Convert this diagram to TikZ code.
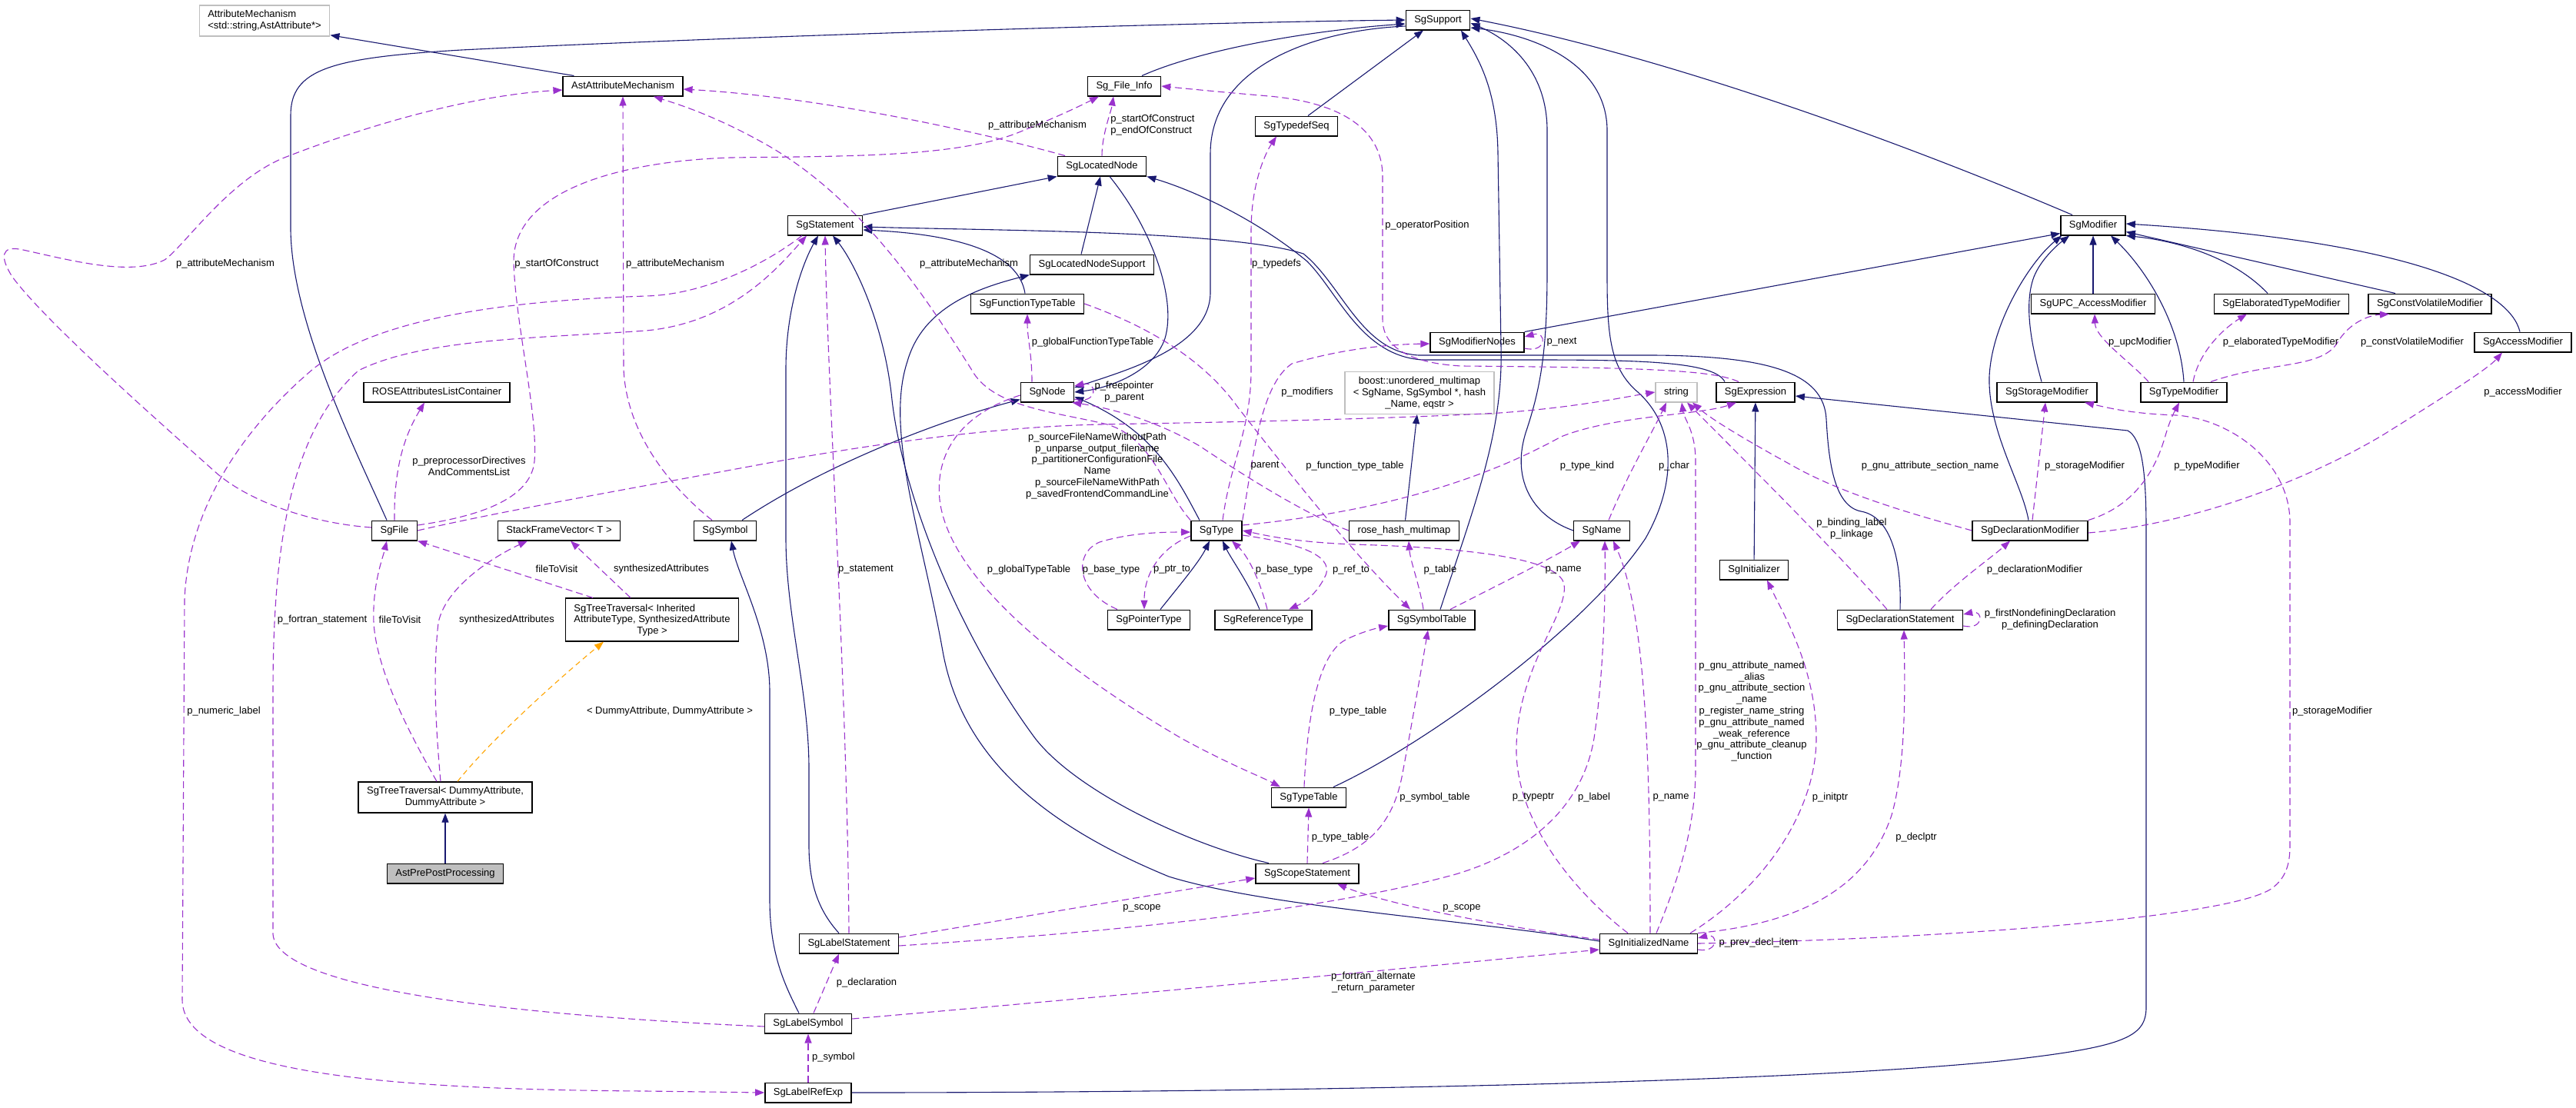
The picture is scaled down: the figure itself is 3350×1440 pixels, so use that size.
\documentclass[tikz,border=0pt]{standalone}
\usepackage{fontspec}
\setmainfont{Liberation Sans}
\usetikzlibrary{arrows.meta}
\definecolor{edgeblue}{HTML}{191970}
\definecolor{edgepurple}{HTML}{9A32CD}
\definecolor{edgeorange}{HTML}{FFA500}
\definecolor{boxgray}{HTML}{BFBFBF}
\begin{document}
\begin{tikzpicture}
[x=1pt, y=-1pt,
 nodes={font=\fontsize{13}{14.8}\selectfont},
 cls/.style={draw=black, line width=1.5pt, fill=white, inner xsep=11pt, inner ysep=6.5pt, text height=9.5pt, text depth=3pt},
 multi/.style={draw=black, line width=1.5pt, fill=white, inner xsep=11pt, inner ysep=6.5pt, align=center},
 ext/.style={draw=boxgray},
 lbl/.style={inner sep=0pt, align=center},
 inh/.style={draw=edgeblue, line width=1.1pt, -{Triangle[length=12pt,width=9pt]}},
 use/.style={draw=edgepurple, line width=1.1pt, dash pattern=on 9pt off 5pt, -{Triangle[length=12pt,width=9pt]}},
 tmpl/.style={draw=edgeorange, line width=1.1pt, dash pattern=on 7pt off 5pt, -{Triangle[length=12pt,width=9pt]}}]
\fill[white] (0,0) rectangle (3350,1440);
\useasboundingbox (0,0) rectangle (3350,1440);

\node[multi, ext, align=left] (AttrMech) at (344,27) {AttributeMechanism\\<std::string,AstAttribute*>};
\node[cls] (AstAttrMech) at (810,112) {AstAttributeMechanism};
\node[cls] (SgSupport) at (1870,26) {SgSupport};
\node[cls] (SgFileInfo) at (1462,112) {Sg\_File\_Info};
\node[cls] (SgTypedefSeq) at (1686,164) {SgTypedefSeq};
\node[cls] (SgLocatedNode) at (1433,216) {SgLocatedNode};
\node[cls] (SgStatement) at (1073,293) {SgStatement};
\node[cls] (SgLNSupport) at (1420,344) {SgLocatedNodeSupport};
\node[cls] (SgFuncTypeTable) at (1336,395) {SgFunctionTypeTable};
\node[cls] (SgModifier) at (2722,293) {SgModifier};
\node[cls] (SgModifierNodes) at (1921,445) {SgModifierNodes};
\node[cls] (SgUPCMod) at (2722,395) {SgUPC\_AccessModifier};
\node[cls] (SgElabMod) at (2967,395) {SgElaboratedTypeModifier};
\node[cls] (SgCVMod) at (3160,395) {SgConstVolatileModifier};
\node[cls] (SgAccessMod) at (3281,445) {SgAccessModifier};
\node[cls] (SgNode) at (1362,510) {SgNode};
\node[cls] (ROSEList) at (568,510) {ROSEAttributesListContainer};
\node[multi, ext] (BoostMap) at (1846,511) {boost::unordered\_multimap\\< SgName, SgSymbol *, hash\\\_Name, eqstr >};
\node[cls, ext] (String) at (2180,510) {string};
\node[cls] (SgExpression) at (2283,510) {SgExpression};
\node[cls] (SgStorageMod) at (2662,510) {SgStorageModifier};
\node[cls] (SgTypeMod) at (2840,510) {SgTypeModifier};
\node[cls] (SgFile) at (513,690) {SgFile};
\node[cls] (StackFV) at (727,690) {StackFrameVector< T >};
\node[cls] (SgSymbol) at (943,690) {SgSymbol};
\node[cls] (SgType) at (1582,690) {SgType};
\node[cls] (RoseHash) at (1826,690) {rose\_hash\_multimap};
\node[cls] (SgName) at (2083,690) {SgName};
\node[cls] (SgDeclMod) at (2640,690) {SgDeclarationModifier};
\node[cls] (SgInitializer) at (2281,741) {SgInitializer};
\node[multi] (TravInh) at (848,806) {\begin{tabular}[b]{@{}l@{}}SgTreeTraversal< Inherited\\AttributeType, SynthesizedAttribute\end{tabular}\\Type >};
\node[cls] (SgPointerType) at (1494,806) {SgPointerType};
\node[cls] (SgRefType) at (1643,806) {SgReferenceType};
\node[cls] (SgSymbolTable) at (1862,806) {SgSymbolTable};
\node[cls] (SgDeclStmt) at (2471,806) {SgDeclarationStatement};
\node[multi] (TravDummy) at (579,1037) {SgTreeTraversal< DummyAttribute,\\DummyAttribute >};
\node[cls] (SgTypeTable) at (1702,1037) {SgTypeTable};
\node[cls, fill=boxgray] (AstPrePost) at (579,1136) {AstPrePostProcessing};
\node[cls] (SgScopeStmt) at (1700,1136) {SgScopeStatement};
\node[cls] (SgLabelStmt) at (1104,1227) {SgLabelStatement};
\node[cls] (SgInitName) at (2144,1227) {SgInitializedName};
\node[cls] (SgLabelSymbol) at (1051,1331) {SgLabelSymbol};
\node[cls] (SgLabelRefExp) at (1051,1421) {SgLabelRefExp};

\draw[inh] ([xshift=15pt]AstAttrMech.north west) -- ([yshift=2pt]AttrMech.south east);
\draw[inh] (AstPrePost) -- (TravDummy);
\draw[tmpl] ([xshift=16pt]TravDummy.north) .. controls (640,960) and (730,880) .. ([xshift=-63pt]TravInh.south);
\draw[inh] ([xshift=-10pt]SgFile.north) .. controls (460,580) and (380,420) .. (378,300) -- (378,150) .. controls (378,90) and (430,75) .. (600,65) .. controls (900,50) and (1500,30) .. (SgSupport.west);
\draw[inh] ([xshift=23pt]SgFileInfo.north) .. controls (1560,65) and (1700,40) .. ([yshift=-5pt]SgSupport.west);
\draw[inh] ([xshift=15pt]SgTypedefSeq.north) -- ([xshift=-19pt]SgSupport.south);
\draw[inh] ([xshift=11pt]SgSymbolTable.north) .. controls (1920,650) and (1955,560) .. (1952,450) -- (1948,200) .. controls (1947,120) and (1925,80) .. ([xshift=30pt]SgSupport.south);
\draw[inh] (SgName.west) .. controls (1990,670) and (1965,620) .. (1985,560) .. controls (2005,500) and (2012,450) .. (2012,350) -- (2012,170) .. controls (2012,90) and (1960,50) .. ([yshift=-4pt]SgSupport.east);
\draw[inh] ([xshift=32pt]SgTypeTable.north) .. controls (1850,970) and (2060,820) .. (2140,700) .. controls (2185,620) and (2175,550) .. (2130,510) .. controls (2095,480) and (2090,440) .. (2090,360) -- (2090,170) .. controls (2090,80) and (1990,45) .. ([yshift=-10pt]SgSupport.east);
\draw[inh] ([xshift=-27pt]SgModifier.north) .. controls (2450,175) and (2150,70) .. ([yshift=2pt]SgSupport.east);
\draw[inh] ([yshift=-8pt]SgSupport.west) .. controls (1700,40) and (1574,90) .. (1574,200) -- (1574,380) .. controls (1574,450) and (1470,480) .. ([yshift=6pt]SgNode.east);
\draw[inh] ([xshift=10pt]SgLocatedNode.south) .. controls (1500,300) and (1530,390) .. (1515,440) .. controls (1500,485) and (1440,505) .. (SgNode.east);
\draw[inh] ([xshift=22pt]SgSymbol.north) .. controls (1080,600) and (1230,545) .. ([yshift=4pt]SgNode.south west);
\draw[inh] ([xshift=-22pt]SgType.north) .. controls (1530,620) and (1500,560) .. ([yshift=-6pt]SgNode.east);
\draw[inh] (SgStatement.north east) -- (SgLocatedNode.south west);
\draw[inh] ([xshift=-14pt]SgLNSupport.north) -- ([xshift=-2pt]SgLocatedNode.south);
\draw[inh] ([xshift=-40pt]SgExpression.north) .. controls (2230,472) and (2150,468) .. (2000,468) -- (1850,468) .. controls (1770,463) and (1740,380) .. (1700,340) .. controls (1640,290) and (1560,250) .. (SgLocatedNode.south east);
\draw[inh] (SgDeclStmt.north) .. controls (2473,730) and (2460,672) .. (2420,665) .. controls (2385,658) and (2378,600) .. (2375,545) .. controls (2372,485) and (2300,463) .. (2150,462) -- (1845,462) .. controls (1770,458) and (1745,370) .. (1695,330) .. controls (1600,300) and (1300,300) .. ([yshift=-2pt]SgStatement.east);
\draw[inh] ([xshift=-3pt]SgFuncTypeTable.north) .. controls (1325,330) and (1250,305) .. ([yshift=-6pt]SgStatement.east);
\draw[inh] ([xshift=-13pt]SgLabelStmt.north) .. controls (1065,1185) and (1052,1150) .. (1052,1100) -- (1052,1000) .. controls (1052,900) and (1022,800) .. (1022,700) -- (1022,480) .. controls (1022,400) and (1045,340) .. ([xshift=-9pt]SgStatement.south);
\draw[inh] ([xshift=-50pt]SgScopeStmt.north) .. controls (1550,1100) and (1400,1030) .. (1346,960) .. controls (1250,830) and (1175,650) .. (1160,520) .. controls (1150,420) and (1110,340) .. ([xshift=10pt]SgStatement.south);
\draw[inh] ([yshift=3pt]SgInitName.west) .. controls (1900,1195) and (1650,1180) .. (1520,1140) .. controls (1350,1070) and (1250,980) .. (1226,847) .. controls (1200,700) and (1150,560) .. (1180,470) .. controls (1200,400) and (1270,375) .. (SgLNSupport.south west);
\draw[inh] ([xshift=-12pt]SgLabelSymbol.north) .. controls (1020,1280) and (1001,1240) .. (1001,1170) -- (1001,900) .. controls (1001,820) and (960,750) .. ([xshift=8pt]SgSymbol.south);
\draw[inh] (SgLabelRefExp.east) .. controls (1600,1421) and (2300,1410) .. (2600,1380) .. controls (2760,1362) and (2791,1350) .. (2791,1310) -- (2791,690) .. controls (2791,610) and (2785,570) .. (2767,560) -- ([yshift=-5pt]SgExpression.east);
\draw[inh] (SgInitializer) -- (SgExpression);
\draw[inh] ([xshift=15pt]SgPointerType.north) .. controls (1535,760) and (1560,730) .. ([xshift=-9pt]SgType.south);
\draw[inh] ([xshift=-5pt]SgRefType.north) .. controls (1625,760) and (1600,725) .. ([xshift=8pt]SgType.south);
\draw[inh] (SgModifierNodes.north east) -- ([yshift=3pt]SgModifier.south west);
\draw[inh] ([xshift=-2pt]SgDeclMod.north) .. controls (2630,630) and (2585,560) .. (2587,490) .. controls (2590,420) and (2640,340) .. ([xshift=2pt]SgModifier.south west);
\draw[inh] ([xshift=-7pt]SgStorageMod.north) .. controls (2645,460) and (2630,400) .. (2645,360) .. controls (2655,335) and (2680,315) .. ([xshift=12pt]SgModifier.south west);
\draw[inh] (SgUPCMod) -- (SgModifier);
\draw[inh] (SgTypeMod.north) .. controls (2835,420) and (2790,350) .. ([xshift=23pt]SgModifier.south);
\draw[inh] ([xshift=-18pt]SgElabMod.north) .. controls (2900,330) and (2820,312) .. (SgModifier.south east);
\draw[inh] ([xshift=-45pt]SgCVMod.north) -- ([yshift=5pt]SgModifier.south east);
\draw[inh] ([xshift=-4pt]SgAccessMod.north) .. controls (3265,380) and (3150,315) .. ([yshift=2pt]SgModifier.east);
\draw[inh] (RoseHash) -- (BoostMap);

\draw[use] ([yshift=4pt]SgFile.west) .. controls (400,680) and (320,650) .. (279,613) .. controls (220,560) and (60,420) .. (16,360) .. controls (0,335) and (0,318) .. (30,325) .. controls (90,338) and (170,360) .. (214,338) .. controls (240,320) and (300,230) .. (375,203) .. controls (460,170) and (600,125) .. ([yshift=-5pt]AstAttrMech.west);
\draw[use] ([xshift=-48pt]SgLocatedNode.north) .. controls (1250,165) and (1050,125) .. ([yshift=-4pt]AstAttrMech.east);
\draw[use] ([xshift=-17pt]SgSymbol.north) .. controls (880,640) and (815,570) .. (811,480) -- (AstAttrMech.south);
\draw[use] (SgType.north west) .. controls (1515,640) and (1500,570) .. (1440,552) .. controls (1370,535) and (1290,530) .. (1263,480) .. controls (1200,380) and (1120,260) .. (1000,190) .. controls (930,150) and (880,135) .. ([xshift=40pt]AstAttrMech.south);
\draw[use] ([yshift=7pt]SgFile.east) .. controls (620,672) and (690,650) .. (695,600) .. controls (700,540) and (670,420) .. (668,340) .. controls (668,250) and (800,210) .. (950,205) .. controls (1100,203) and (1250,205) .. (1330,170) .. controls (1380,150) and (1410,135) .. ([xshift=-33pt]SgFileInfo.south);
\draw[use] (SgLocatedNode.north) .. controls (1433,175) and (1445,145) .. ([xshift=-14pt]SgFileInfo.south);
\draw[use] ([xshift=-22pt]SgExpression.north) .. controls (2230,482) and (2150,478) .. (1900,476) .. controls (1830,472) and (1798,450) .. (1798,415) -- (1798,230) .. controls (1798,160) and (1730,132) .. (1650,125) .. controls (1580,119) and (1540,115) .. (SgFileInfo.east);
\draw[use] (SgFile.east) .. controls (650,665) and (850,630) .. (1000,602) .. controls (1150,575) and (1300,555) .. (1430,552) .. controls (1600,549) and (1800,545) .. (1950,537) .. controls (2050,530) and (2120,515) .. (String.west);
\draw[use] (SgFile.north) .. controls (512,600) and (530,560) .. ([xshift=-16pt]ROSEList.south);
\draw[use] ([xshift=-77pt]TravInh.north) -- (SgFile.south east);
\draw[use] ([xshift=-28pt]TravInh.north) -- ([xshift=15pt]StackFV.south);
\draw[use] ([xshift=-11pt]TravDummy.north) .. controls (545,975) and (490,880) .. (486,810) .. controls (484,760) and (498,725) .. ([xshift=-10pt]SgFile.south);
\draw[use] ([xshift=-6pt]TravDummy.north) .. controls (568,960) and (562,880) .. (570,810) .. controls (580,760) and (650,720) .. ([xshift=-41pt]StackFV.south);
\draw[use] ([yshift=-9pt]SgNode.east) .. controls (1428,527) and (1428,495) .. ([yshift=8pt]SgNode.east);
\draw[use] ([xshift=-20pt]SgNode.north) .. controls (1342,460) and (1336,440) .. (SgFuncTypeTable.south);
\draw[use] ([yshift=-4pt]SgNode.west) .. controls (1260,535) and (1215,580) .. (1222,650) .. controls (1235,760) and (1400,880) .. (1536,960) .. controls (1600,995) and (1640,1010) .. ([xshift=-37pt]SgTypeTable.north);
\draw[use] ([xshift=8pt]SgType.north) .. controls (1600,600) and (1627,560) .. (1627,480) -- (1627,300) .. controls (1627,240) and (1645,200) .. ([xshift=-26pt]SgTypedefSeq.south);
\draw[use] (SgType.north east) .. controls (1630,590) and (1640,500) .. (1680,473) .. controls (1740,455) and (1800,448) .. ([yshift=-2pt]SgModifierNodes.west);
\draw[use] (RoseHash.west) .. controls (1700,670) and (1620,620) .. (1560,580) .. controls (1500,545) and (1440,530) .. ([xshift=-3pt]SgNode.south east);
\draw[use] ([xshift=-41pt]SgPointerType.north) .. controls (1400,770) and (1395,720) .. (1430,705) .. controls (1470,693) and (1510,692) .. ([yshift=-2pt]SgType.west);
\draw[use] ([yshift=-7pt]SgType.west) .. controls (1510,712) and (1488,745) .. ([xshift=-6pt]SgPointerType.north);
\draw[use] ([xshift=5pt]SgRefType.north) .. controls (1640,760) and (1625,725) .. ([xshift=20pt]SgType.south);
\draw[use] ([yshift=-6pt]SgType.east) .. controls (1680,705) and (1735,720) .. (1724,748) .. controls (1715,768) and (1700,782) .. ([xshift=33pt]SgRefType.north);
\draw[use] ([xshift=-11pt]SgSymbolTable.north) .. controls (1846,760) and (1834,730) .. ([xshift=6pt]RoseHash.south);
\draw[use] ([xshift=24pt]SgSymbolTable.north) .. controls (1950,760) and (2010,730) .. ([xshift=-28pt]SgName.south);
\draw[use] ([xshift=9pt]SgName.north) .. controls (2115,620) and (2150,560) .. ([xshift=-13pt]String.south);
\draw[use] ([yshift=7pt]SgType.east) .. controls (1750,670) and (1900,640) .. (2030,568) .. controls (2100,540) and (2210,540) .. ([xshift=-25pt]SgExpression.south);
\draw[use] ([xshift=10pt]SgInitName.north) .. controls (2180,1150) and (2205,1080) .. (2205,1000) -- (2205,600) .. controls (2205,560) and (2190,545) .. ([xshift=7pt]String.south);
\draw[use] ([xshift=2pt]SgInitName.north) .. controls (2146,1000) and (2141,800) .. ([xshift=15pt]SgName.south);
\draw[use] ([yshift=-3pt]SgLabelStmt.east) .. controls (1400,1215) and (1700,1190) .. (1893,1137) .. controls (2000,1105) and (2060,1040) .. (2073,960) .. controls (2085,880) and (2088,780) .. ([xshift=4pt]SgName.south);
\draw[use] ([xshift=-27pt]SgInitName.north) .. controls (2060,1170) and (1975,1080) .. (1972,980) .. controls (1970,870) and (2040,800) .. (2034,760) .. controls (2028,725) and (1900,712) .. (1760,708) .. controls (1680,705) and (1640,695) .. (SgType.east);
\draw[use] ([xshift=20pt]SgScopeStmt.north) .. controls (1790,1100) and (1815,1060) .. (1825,1000) .. controls (1840,920) and (1850,860) .. ([xshift=-5pt]SgSymbolTable.south);
\draw[use] (SgScopeStmt.north) -- (SgTypeTable.south);
\draw[use] ([xshift=-6pt]SgTypeTable.north) .. controls (1700,930) and (1715,850) .. (1750,832) .. controls (1770,822) and (1790,817) .. ([yshift=-8pt]SgSymbolTable.west);
\draw[use] (SgFuncTypeTable.east) .. controls (1480,420) and (1560,460) .. (1610,530) .. controls (1680,620) and (1760,720) .. ([xshift=-28pt]SgSymbolTable.north);
\draw[use] (SgLabelStmt.north) .. controls (1102,900) and (1076,500) .. (SgStatement.south);
\draw[use] ([yshift=8pt]SgLabelStmt.east) -- ([yshift=-6pt]SgScopeStmt.west);
\draw[use] ([yshift=5pt]SgInitName.west) .. controls (1950,1205) and (1800,1175) .. ([xshift=39pt]SgScopeStmt.south);
\draw[use] ([xshift=7pt]SgLabelSymbol.north) -- ([xshift=-13pt]SgLabelStmt.south);
\draw[use] (SgLabelRefExp.north) -- (SgLabelSymbol.south);
\draw[use] ([yshift=6pt]SgLabelSymbol.east) .. controls (1400,1300) and (1800,1262) .. ([yshift=-8pt]SgInitName.west);
\draw[use] ([yshift=-8pt]SgInitName.east) .. controls (2235,1240) and (2235,1213) .. ([yshift=7pt]SgInitName.east);
\draw[use] ([yshift=-8pt]SgDeclStmt.east) .. controls (2580,820) and (2580,793) .. ([yshift=7pt]SgDeclStmt.east);
\draw[use] ([xshift=40pt]SgDeclStmt.north) .. controls (2540,760) and (2590,725) .. ([xshift=-26pt]SgDeclMod.south);
\draw[use] (SgInitName.north east) .. controls (2350,1200) and (2430,1150) .. (2460,1060) .. controls (2480,990) and (2477,880) .. ([xshift=5pt]SgDeclStmt.south);
\draw[use] ([xshift=-10pt]SgInitName.north east) .. controls (2300,1150) and (2362,1050) .. (2362,960) .. controls (2362,870) and (2320,800) .. ([xshift=17pt]SgInitializer.south);
\draw[use] (SgInitName.east) .. controls (2500,1222) and (2900,1195) .. (2955,1155) .. controls (2972,1142) and (2978,1125) .. (2978,1100) -- (2978,680) .. controls (2978,600) and (2900,545) .. (2830,540) .. controls (2770,538) and (2740,530) .. ([xshift=49pt]SgStorageMod.south);
\draw[use] ([xshift=3pt]SgDeclMod.north) -- ([xshift=-2pt]SgStorageMod.south);
\draw[use] (SgDeclMod.north east) .. controls (2770,660) and (2800,620) .. (2815,570) .. controls (2822,545) and (2828,535) .. ([xshift=-6pt]SgTypeMod.south);
\draw[use] ([yshift=-3pt]SgDeclMod.east) .. controls (2850,682) and (3000,625) .. (3100,565) .. controls (3180,515) and (3235,480) .. ([xshift=-27pt]SgAccessMod.south);
\draw[use] (SgDeclMod.west) .. controls (2500,672) and (2400,645) .. (2330,605) .. controls (2270,572) and (2225,545) .. ([xshift=21pt]String.south);
\draw[use] ([xshift=-17pt]SgDeclStmt.north) .. controls (2400,730) and (2290,620) .. ([xshift=14pt]String.south);
\draw[use] ([xshift=11pt]SgTypeMod.north west) .. controls (2770,470) and (2725,440) .. ([xshift=2pt]SgUPCMod.south);
\draw[use] ([xshift=12pt]SgTypeMod.north) .. controls (2860,455) and (2895,425) .. ([xshift=-45pt]SgElabMod.south);
\draw[use] ([xshift=35pt]SgTypeMod.north) .. controls (2950,470) and (3020,480) .. (3040,445) .. controls (3055,420) and (3080,410) .. ([xshift=-53pt]SgCVMod.south);
\draw[use] ([yshift=-8pt]SgModifierNodes.east) .. controls (2012,460) and (2012,430) .. ([yshift=7pt]SgModifierNodes.east);
\draw[use] ([xshift=-30pt]SgStatement.south) .. controls (1000,340) and (920,383) .. (840,385) .. controls (700,390) and (500,405) .. (407,480) .. controls (330,545) and (245,650) .. (240,780) -- (237,1300) .. controls (237,1395) and (500,1417) .. (840,1419) -- (SgLabelRefExp.west);
\draw[use] ([yshift=-4pt]SgLabelSymbol.west) .. controls (700,1322) and (360,1290) .. (355,1215) -- (355,900) .. controls (355,700) and (380,560) .. (466,482) .. controls (550,440) and (700,440) .. (840,430) .. controls (950,420) and (1010,350) .. ([xshift=-24pt]SgStatement.south);

\node[lbl] (lFileAM) at (293,343) {p\_attributeMechanism};
\node[lbl] (lFileStart) at (724,343) {p\_startOfConstruct};
\node[lbl] (lSymAM) at (878,343) {p\_attributeMechanism};
\node[lbl] (lLocAM) at (1349,163) {p\_attributeMechanism};
\node[lbl, align=left] (lLocStart) at (1499,163) {p\_startOfConstruct\\p\_endOfConstruct};
\node[lbl] (lTypeAM) at (1260,343) {p\_attributeMechanism};
\node[lbl] (lGlobFTT) at (1421,445) {p\_globalFunctionTypeTable};
\node[lbl] (lTypedefs) at (1660,343) {p\_typedefs};
\node[lbl] (lOpPos) at (1856,293) {p\_operatorPosition};
\node[lbl] (lNext) at (2031,445) {p\_next};
\node[lbl] (lUpc) at (2783,445) {p\_upcModifier};
\node[lbl] (lElab) at (2966,445) {p\_elaboratedTypeModifier};
\node[lbl] (lCV) at (3137,445) {p\_constVolatileModifier};
\node[lbl] (lPreproc) at (610,606) {p\_preprocessorDirectives\\AndCommentsList};
\node[lbl] (lVisitInh) at (724,740) {fileToVisit};
\node[lbl] (lSynthInh) at (860,740) {synthesizedAttributes};
\node[lbl] (lFortStmt) at (419,806) {p\_fortran\_statement};
\node[lbl] (lVisitDum) at (520,806) {fileToVisit};
\node[lbl] (lSynthDum) at (659,806) {synthesizedAttributes};
\node[lbl] (lNumLabel) at (291,925) {p\_numeric\_label};
\node[lbl] (lTmpl) at (871,925) {< DummyAttribute, DummyAttribute >};
\node[lbl] (lFree) at (1462,510) {p\_freepointer\\p\_parent};
\node[lbl] (lFileNames) at (1427,606) {p\_sourceFileNameWithoutPath\\p\_unparse\_output\_filename\\p\_partitionerConfigurationFile\\Name\\p\_sourceFileNameWithPath\\p\_savedFrontendCommandLine};
\node[lbl] (lParent) at (1645,606) {parent};
\node[lbl] (lStmt) at (1126,741) {p\_statement};
\node[lbl] (lGlobTT) at (1338,741) {p\_globalTypeTable};
\node[lbl] (lBasePtr) at (1445,741) {p\_base\_type};
\node[lbl] (lPtrTo) at (1524,741) {p\_ptr\_to};
\node[lbl] (lBaseRef) at (1670,741) {p\_base\_type};
\node[lbl] (lMods) at (1700,510) {p\_modifiers};
\node[lbl] (lFTT) at (1762,606) {p\_function\_type\_table};
\node[lbl] (lKind) at (2064,606) {p\_type\_kind};
\node[lbl] (lChar) at (2177,606) {p\_char};
\node[lbl] (lSection) at (2510,606) {p\_gnu\_attribute\_section\_name};
\node[lbl] (lBinding) at (2408,688) {p\_binding\_label\\p\_linkage};
\node[lbl] (lRefTo) at (1757,741) {p\_ref\_to};
\node[lbl] (lTable) at (1873,741) {p\_table};
\node[lbl] (lNameTab) at (2033,741) {p\_name};
\node[lbl] (lGnu) at (2278,925) {p\_gnu\_attribute\_named\\\_alias\\p\_gnu\_attribute\_section\\\_name\\p\_register\_name\_string\\p\_gnu\_attribute\_named\\\_weak\_reference\\p\_gnu\_attribute\_cleanup\\\_function};
\node[lbl] (lTTable) at (1766,925) {p\_type\_table};
\node[lbl] (lAccess) at (3281,510) {p\_accessModifier};
\node[lbl] (lStorDecl) at (2711,606) {p\_storageModifier};
\node[lbl] (lTypeMod) at (2870,606) {p\_typeModifier};
\node[lbl] (lDeclMod) at (2646,741) {p\_declarationModifier};
\node[lbl] (lDefDecl) at (2666,806) {p\_firstNondefiningDeclaration\\p\_definingDeclaration};
\node[lbl] (lStorInit) at (3033,925) {p\_storageModifier};
\node[lbl] (lScopeLab) at (1485,1181) {p\_scope};
\node[lbl] (lDecl) at (1127,1278) {p\_declaration};
\node[lbl] (lSymbol) at (1084,1375) {p\_symbol};
\node[lbl] (lSymTab) at (1866,1037) {p\_symbol\_table};
\node[lbl] (lTypeptr) at (1994,1037) {p\_typeptr};
\node[lbl] (lLabel) at (2073,1037) {p\_label};
\node[lbl] (lNameInit) at (2173,1037) {p\_name};
\node[lbl] (lInitptr) at (2380,1037) {p\_initptr};
\node[lbl] (lDeclptr) at (2492,1089) {p\_declptr};
\node[lbl] (lTypeTab) at (1743,1089) {p\_type\_table};
\node[lbl] (lScopeInit) at (1901,1181) {p\_scope};
\node[lbl] (lPrev) at (2287,1226) {p\_prev\_decl\_item};
\node[lbl] (lAltRet) at (1786,1278) {p\_fortran\_alternate\\\_return\_parameter};
\end{tikzpicture}
\end{document}
